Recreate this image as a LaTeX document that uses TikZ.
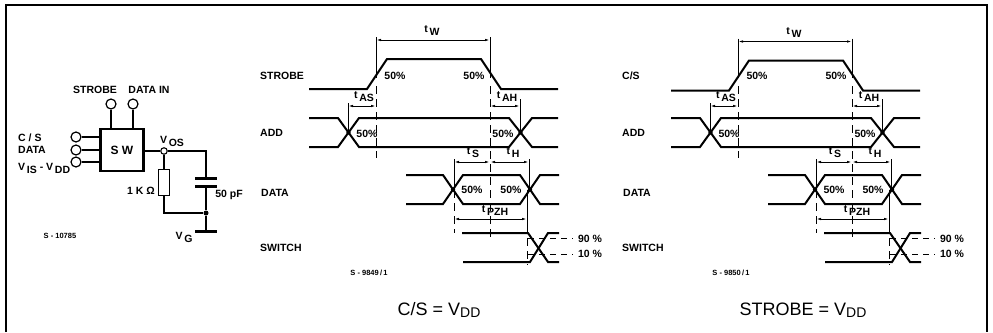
\documentclass[tikz,border=0pt]{standalone}
\usepackage{fontspec}
\setmainfont{Liberation Sans}
\usetikzlibrary{positioning,arrows.meta}
\newcommand{\subtxt}[2]{#1\,\raisebox{-3pt}{#2}}
\tikzset{
  lab/.style={font=\fontsize{10.5}{11}\selectfont\bfseries,inner sep=0pt},
  tinylab/.style={font=\fontsize{7.5}{8}\selectfont\bfseries,inner sep=0pt},
  caption/.style={font=\fontsize{18}{20}\selectfont,inner sep=0pt},
  term/.style={draw,circle,line width=1.2pt,inner sep=0pt,minimum size=10pt},
  wire/.style={line width=1.1pt},
  plate/.style={line width=3pt},
  wave/.style={line width=2pt},
  dim/.style={line width=.9pt,{Latex[length=5pt,width=2.5pt]}-{Latex[length=5pt,width=2.5pt]}},
  ext/.style={line width=.9pt},
  guide/.style={line width=1pt,dash pattern=on 8pt off 5pt},
  level/.style={line width=.9pt,dash pattern=on 6pt off 5pt}
}
\begin{document}
\begin{tikzpicture}[x=1pt,y=-1pt]
  \useasboundingbox (0,0) rectangle (993,332);
  \draw[line width=1.2pt] (6,332) -- (6,5) -- (987,5) -- (987,332);

  \node[draw,line width=2.6pt,minimum width=43pt,minimum height=42pt,inner sep=0pt] (sw) at (122,150) {\fontsize{12}{13}\selectfont\bfseries S W};
  \node[term] (strobe) at (111,104) {};
  \node[term] (datain) at (133,104) {};
  \node[term] (cs) at (76,137) {};
  \node[term] (data) at (76,150) {};
  \node[term] (vis) at (76,162) {};
  \node[draw,circle,line width=1.1pt,inner sep=0pt,minimum size=6.5pt] (vos) at (164,151) {};
  \node[draw,line width=1.1pt,inner sep=0pt,minimum width=11pt,minimum height=26pt] (res) at (164,182.5) {};
  \node[circle,fill,inner sep=0pt,minimum size=5pt] (jct) at (206,213) {};
  \coordinate (capa) at (206,178);
  \coordinate (capb) at (206,186);
  \coordinate (gnd) at (206,231);
  \coordinate (corner) at (206,151);
  \draw[wire] (strobe) -- (strobe |- sw.north);
  \draw[wire] (datain) -- (datain |- sw.north);
  \draw[wire] (cs) -- (cs -| sw.west);
  \draw[wire] (data) -- (data -| sw.west);
  \draw[wire] (vis) -- (vis -| sw.west);
  \draw[wire] (sw.east |- vos) -- (vos);
  \draw[wire] (vos) -- (corner) -- (capa);
  \draw[wire] (vos) -- (res);
  \draw[wire] (res) |- (jct);
  \draw[wire] (capb) -- (jct) -- (gnd);
  \draw[plate] ([xshift=-11pt]capa) -- ([xshift=11pt]capa);
  \draw[plate] ([xshift=-11pt]capb) -- ([xshift=11pt]capb);
  \draw[plate] ([xshift=-11pt]gnd) -- ([xshift=11pt]gnd);

  \node[lab] (strobelab) at (95,90) {STROBE};
  \node[lab] (datainlab) at (149,90) {DATA IN};
  \node[lab,anchor=west] (cslab) at (18,138) {C / S};
  \node[lab,anchor=west] (datalab) at (18,150) {DATA};
  \node[lab,anchor=west] (vislab) at (18,168) {\subtxt{V}{IS} - \subtxt{V}{DD}};
  \node[lab] (voslab) at (172,141) {\subtxt{V}{OS}};
  \node[lab] (reslab) at (141,191) {1 K Ω};
  \node[lab] (caplab) at (229,195) {50 pF};
  \node[lab] (vglab) at (184,237) {\subtxt{V}{G}};
  \node[tinylab] (fig) at (60,236) {S - 10785};

  \foreach \dx/\sy/\sig/\figno in {0/0/STROBE/9849,362/1.5/{C/S}/9850}{
    \begin{scope}[shift={(\dx,0)}]
      \draw[wave] (309,89+\sy) -- (367,89+\sy) -- (387,59+\sy) -- (481,59+\sy) -- (501,89+\sy) -- (558,89+\sy);
      \draw[wave] (309,118) -- (338,118) -- (359,147) -- (509,147) -- (532,118) -- (558,118);
      \draw[wave] (309,147) -- (338,147) -- (359,118) -- (509,118) -- (532,147) -- (558,147);
      \draw[wave] (406,175) -- (443,175) -- (463,204) -- (520,204) -- (540,175) -- (559,175);
      \draw[wave] (406,204) -- (443,204) -- (463,175) -- (520,175) -- (540,204) -- (559,204);
      \draw[wave] (462,233) -- (528,233) -- (548,262) -- (559,262);
      \draw[wave] (463,262) -- (530,262) -- (548,233) -- (559,233);
      \foreach \cx/\cy in {348.5/132.5,520.5/132.5,453/189.5,530/189.5}
        \fill (\cx,\cy) circle (2.2pt);

      \draw[ext] (376,37+\sy) -- (376,78);
      \draw[ext] (490,37+\sy) -- (490,78);
      \draw[guide] (376,86) -- (376,158);
      \draw[guide] (490,86) -- (490,238);
      \draw[ext] (348,103) -- (348,134);
      \draw[ext] (520,99) -- (520,134);
      \draw[ext] (454,159) -- (454,190);
      \draw[guide] (454,190) -- (454,233);
      \draw[ext] (529,159) -- (529,190);
      \draw[ext] (527,190) -- (527,225);
      \draw[guide] (527,225) -- (527,265);
      \draw[level] (528,238) -- (573,238);
      \draw[level] (528,254) -- (573,254);

      \draw[dim] (376,40+\sy) -- (490,40+\sy);
      \draw[dim] (348,106) -- (376,106);
      \draw[dim] (490,106) -- (520,106);
      \draw[dim] (454,162) -- (490,162);
      \draw[dim] (490,162) -- (529,162);
      \draw[dim] (454,219) -- (527,219);

      \node[lab,anchor=west] (sig\dx) at (260,76) {\sig};
      \node[lab,anchor=west] (add\dx) at (260,133) {ADD};
      \node[lab,anchor=west] (dat\dx) at (261,193) {DATA};
      \node[lab,anchor=west] (swi\dx) at (260,248) {SWITCH};
      \node[lab] (tw\dx) at (432,31+\sy) {\subtxt{t}{W}};
      \node[lab] (tas\dx) at (364,97) {\subtxt{t}{AS}};
      \node[lab] (tah\dx) at (507,97) {\subtxt{t}{AH}};
      \node[lab] (ts\dx) at (473,153) {\subtxt{t}{S}};
      \node[lab] (th\dx) at (513,153) {\subtxt{t}{H}};
      \node[lab] (tpzh\dx) at (495,211) {\subtxt{t}{PZH}};
      \node[lab] (pa\dx) at (395,76) {50\%};
      \node[lab] (pb\dx) at (474,76) {50\%};
      \node[lab] (pc\dx) at (367,134) {50\%};
      \node[lab] (pd\dx) at (503,134) {50\%};
      \node[lab] (pe\dx) at (472,190) {50\%};
      \node[lab] (pf\dx) at (511,190) {50\%};
      \node[lab] (phi\dx) at (590,239) {90 \%};
      \node[lab] (plo\dx) at (590,254) {10 \%};
      \node[tinylab] (figno\dx) at (369,273) {S - \figno\,/\,1};
    \end{scope}
  }
  \node[caption] (capleft) at (439,310) {C/S = V\raisebox{-1.5pt}{\fontsize{14}{15}\selectfont DD}};
  \node[caption] (capright) at (803,310) {STROBE = V\raisebox{-1.5pt}{\fontsize{14}{15}\selectfont DD}};
\end{tikzpicture}
\end{document}
